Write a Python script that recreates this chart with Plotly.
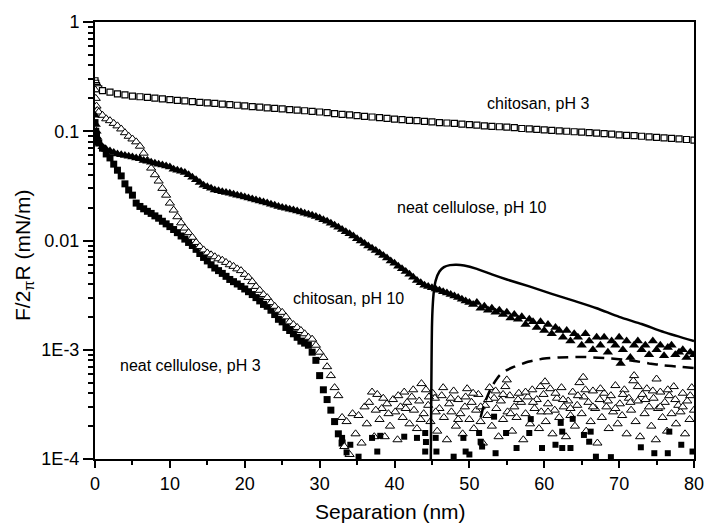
import math
import plotly.graph_objects as go

# ---------------- data ----------------
# chitosan, pH 3 (open squares)
chit3 = [(0, 0.29), (0.1, 0.275), (0.2, 0.262), (0.3, 0.252), (0.5, 0.245),
         (1, 0.235), (2, 0.228), (3, 0.22), (4, 0.215), (5, 0.21), (6, 0.207), (7, 0.204), (8, 0.201),
         (9, 0.198), (10, 0.195), (11, 0.192), (12, 0.19), (13, 0.187), (14, 0.184), (15, 0.182),
         (16, 0.18), (17, 0.177), (18, 0.175), (19, 0.173), (20, 0.171), (21, 0.168), (22, 0.166),
         (23, 0.164), (24, 0.162), (25, 0.16), (26, 0.158), (27, 0.156), (28, 0.154), (29, 0.152),
         (30, 0.15), (31, 0.148), (32, 0.145), (33, 0.143), (34, 0.141), (35, 0.139), (36, 0.137),
         (37, 0.135), (38, 0.133), (39, 0.131), (40, 0.129), (41, 0.128), (42, 0.126), (43, 0.125),
         (44, 0.123), (45, 0.122), (46, 0.12), (47, 0.119), (48, 0.118), (49, 0.116), (50, 0.115),
         (51, 0.114), (52, 0.112), (53, 0.111), (54, 0.11), (55, 0.109), (56, 0.108), (57, 0.106),
         (58, 0.105), (59, 0.104), (60, 0.103), (61, 0.102), (62, 0.101), (63, 0.1), (64, 0.099),
         (65, 0.098), (66, 0.097), (67, 0.096), (68, 0.095), (69, 0.094), (70, 0.0925), (71, 0.0915),
         (72, 0.091), (73, 0.09), (74, 0.089), (75, 0.088), (76, 0.087), (77, 0.086), (78, 0.085),
         (79, 0.084), (80, 0.083)]

# neat cellulose, pH 10 (filled triangles)
neat10 = [(0, 0.14), (0.1, 0.115), (0.2, 0.1), (0.3, 0.088), (0.5, 0.078), (1, 0.072), (1.5, 0.068),
          (2, 0.066), (2.5, 0.064), (3, 0.062), (3.5, 0.061), (4, 0.06), (4.5, 0.059), (5, 0.058),
          (5.5, 0.057), (6, 0.056), (6.5, 0.054), (7, 0.053), (7.5, 0.052), (8, 0.051), (8.5, 0.05),
          (9, 0.049), (9.5, 0.048), (10, 0.047), (10.5, 0.045), (11, 0.044), (11.5, 0.043), (12, 0.042),
          (12.5, 0.04), (13, 0.038), (13.5, 0.036), (14, 0.034), (14.5, 0.032), (15, 0.031), (15.5, 0.03),
          (16, 0.029), (16.5, 0.0285), (17, 0.028), (17.5, 0.0275), (18, 0.027), (18.5, 0.0265),
          (19, 0.026), (19.5, 0.0255), (20, 0.025), (20.5, 0.0245), (21, 0.024), (21.5, 0.0235),
          (22, 0.023), (22.5, 0.0225), (23, 0.022), (23.5, 0.0215), (24, 0.021), (24.5, 0.0205),
          (25, 0.02), (25.5, 0.0197), (26, 0.0193), (26.5, 0.019), (27, 0.0186), (27.5, 0.0182),
          (28, 0.0178), (28.5, 0.0174), (29, 0.017), (29.5, 0.0166), (30, 0.0161), (30.5, 0.0155),
          (31, 0.015), (31.5, 0.0144), (32, 0.0138), (32.5, 0.0132), (33, 0.0126), (33.5, 0.012),
          (34, 0.0115), (34.5, 0.011), (35, 0.0104), (35.5, 0.0099), (36, 0.0094), (36.5, 0.0089),
          (37, 0.0085), (37.5, 0.0081), (38, 0.0077), (38.5, 0.0073), (39, 0.0069), (39.5, 0.0065),
          (40, 0.0062), (40.5, 0.0058), (41, 0.0055), (41.5, 0.0052), (42, 0.0049), (42.5, 0.0046),
          (43, 0.0043), (43.5, 0.0041), (44, 0.0039), (44.5, 0.0038), (45, 0.0037), (45.5, 0.0036),
          (46, 0.0035), (46.5, 0.0034), (47, 0.0033), (47.5, 0.0032), (48, 0.0031), (48.5, 0.003),
          (49, 0.0029), (49.5, 0.0028), (50, 0.0027), (50.5, 0.0026), (51, 0.0027), (51.5, 0.0024),
          (52, 0.0025), (52.5, 0.0023), (53, 0.0024), (53.5, 0.0022), (54, 0.0023), (54.5, 0.0021),
          (55, 0.0022), (55.5, 0.00195), (56, 0.0021), (56.5, 0.0019), (57, 0.002), (57.5, 0.0017),
          (58, 0.0019), (58.5, 0.0018), (59, 0.0016), (59.5, 0.0018), (60, 0.0015), (60.5, 0.0017),
          (61, 0.0014), (61.5, 0.0016), (62, 0.0015), (62.5, 0.0013), (63, 0.0015), (63.5, 0.0012),
          (64, 0.0014), (64.5, 0.0013), (65, 0.0011), (65.5, 0.0014), (66, 0.0012), (66.5, 0.001),
          (67, 0.0013), (67.5, 0.0011), (68, 0.0013), (68.5, 0.00095), (69, 0.0012), (69.5, 0.0011),
          (70, 0.0013), (70.2, 0.00075), (70.5, 0.001), (71, 0.0012), (71.5, 0.00085), (72, 0.0011),
          (72.5, 0.0012), (73, 0.001), (73.5, 0.0011), (74, 0.0009), (74.5, 0.0012), (75, 0.001),
          (75.5, 0.0011), (76, 0.00088), (76.5, 0.00105), (77, 0.0011), (77.5, 0.0009), (78, 0.00095),
          (78.5, 0.001), (79, 0.00085), (79.5, 0.00095), (80, 0.0009)]

# chitosan, pH 10 (open triangles) - decaying part
chit10 = [(0, 0.24), (0.1, 0.2), (0.2, 0.17), (0.3, 0.155), (0.5, 0.15), (1, 0.14), (1.5, 0.13),
          (2, 0.125), (2.5, 0.118), (3, 0.112), (3.5, 0.105), (4, 0.097), (4.5, 0.09), (5, 0.085),
          (5.5, 0.08), (6, 0.073), (6.5, 0.063), (7, 0.054), (7.5, 0.046), (8, 0.04), (8.5, 0.035),
          (9, 0.03), (9.5, 0.026), (10, 0.022), (10.5, 0.019), (11, 0.0165), (11.5, 0.0145), (12, 0.013),
          (12.5, 0.0118), (13, 0.0107), (13.5, 0.0096), (14, 0.0088), (14.5, 0.0082), (15, 0.0077),
          (15.5, 0.0074), (16, 0.0071), (16.5, 0.0068), (17, 0.0066), (17.5, 0.0063), (18, 0.006),
          (18.5, 0.0058), (19, 0.0055), (19.5, 0.0053), (20, 0.0049), (20.5, 0.0046), (21, 0.0042),
          (21.5, 0.0038), (22, 0.0035), (22.5, 0.0032), (23, 0.003), (23.5, 0.0027), (24, 0.0025),
          (24.5, 0.0023), (25, 0.0022), (25.5, 0.002), (26, 0.0018), (26.5, 0.0017), (27, 0.0016),
          (27.5, 0.0015), (28, 0.0014), (28.5, 0.0013), (29, 0.00125), (29.5, 0.0011), (30, 0.00095),
          (30.5, 0.00085), (31, 0.0007), (31.5, 0.00058), (32, 0.00045), (32.5, 0.00038)]

# chitosan, pH 10 - noise floor (units of 1e-4 mN/m)
chit10_noise = [(33.0, 2.4), (33.3, 1.3), (33.6, 2.2), (34.0, 1.1), (34.4, 2.6), (34.8, 1.7), (35.2, 2.5),
                (35.6, 1.4), (36.0, 3.0), (36.3, 2.1), (36.6, 3.3), (37.0, 4.1), (37.3, 1.6), (37.7, 3.9),
                (38.0, 2.3), (38.3, 2.9), (38.7, 1.6), (39.0, 3.2), (39.4, 2.0), (39.8, 3.5), (40.1, 2.7),
                (40.4, 1.5), (40.8, 3.0), (41.1, 2.4), (41.3, 4.1), (41.7, 3.3), (42.0, 2.1), (42.3, 3.7),
                (42.6, 2.8), (43.0, 1.9), (43.3, 3.4), (43.6, 4.9), (43.9, 2.6), (44.2, 4.3), (44.5, 3.1),
                (44.8, 2.2), (45.1, 4.0), (45.4, 3.6), (45.7, 1.8), (46.0, 2.9), (46.3, 3.8), (46.6, 2.4),
                (47.0, 1.5), (47.3, 3.2), (47.6, 2.7), (47.9, 4.2), (48.2, 2.0), (48.5, 3.5), (48.8, 2.6),
                (49.1, 1.7), (49.4, 3.0), (49.7, 4.4), (50.0, 2.3), (50.3, 3.3), (50.6, 1.9), (50.9, 2.8),
                (51.2, 3.9), (51.5, 2.2), (51.8, 1.4), (52.1, 3.1), (52.4, 2.5), (52.7, 4.5), (53.0, 2.0),
                (53.3, 3.6), (53.6, 2.9), (53.9, 1.6), (54.2, 3.4), (54.5, 2.3), (54.8, 4.6), (55.1, 2.7),
                (55.4, 3.8), (55.7, 1.8), (56.0, 3.0), (56.3, 2.4), (56.6, 4.0), (56.9, 3.3), (57.2, 1.5),
                (57.5, 2.6), (57.8, 3.7), (58.1, 2.1), (58.4, 4.3), (58.7, 2.9), (59.0, 3.5), (59.3, 1.9),
                (59.6, 2.7), (59.9, 3.9), (60.2, 2.2), (60.5, 3.2), (60.8, 4.4), (61.1, 1.7), (61.4, 2.8),
                (61.7, 3.6), (62.0, 2.4), (62.3, 4.5), (62.6, 3.0), (62.9, 1.6), (63.2, 3.4), (63.5, 2.5),
                (63.8, 4.1), (64.1, 2.0), (64.4, 3.1), (64.7, 5.0), (65.0, 2.6), (65.3, 3.7), (65.6, 1.8),
                (65.9, 3.3), (66.2, 2.2), (66.5, 4.2), (66.8, 2.9), (67.1, 1.4), (67.4, 3.5), (67.7, 2.4),
                (68.0, 4.0), (68.3, 3.0), (68.6, 1.9), (68.9, 3.8), (69.2, 2.7), (69.5, 4.7), (69.8, 2.1),
                (70.1, 3.2), (70.4, 2.5), (70.7, 4.3), (71.0, 1.7), (71.3, 3.6), (71.6, 2.8), (71.9, 5.2),
                (72.2, 2.2), (72.5, 3.4), (72.8, 1.6), (73.1, 3.9), (73.4, 2.6), (73.7, 4.4), (74.0, 3.0),
                (74.3, 2.0), (74.6, 3.6), (74.9, 1.5), (75.2, 2.9), (75.5, 4.1), (75.8, 2.4), (76.1, 3.3),
                (76.4, 1.8), (76.7, 3.8), (77.0, 2.6), (77.3, 4.6), (77.6, 2.1), (77.9, 3.1), (78.2, 2.7),
                (78.5, 4.0), (78.8, 1.7), (79.1, 3.4), (79.4, 2.3), (79.7, 4.5), (80.0, 2.8),
                (37.5, 2.8), (38.5, 3.6), (39.2, 2.6), (40.5, 3.8), (41.5, 2.9), (42.5, 4.3), (43.5, 2.3),
                (44.6, 3.7), (45.5, 2.7), (46.5, 4.5), (47.5, 3.6), (48.5, 2.3), (49.5, 3.7), (50.5, 4.0),
                (51.5, 3.0), (52.5, 3.5), (53.5, 4.2), (54.5, 3.9), (55.5, 2.6), (56.5, 3.5), (57.5, 4.1),
                (58.5, 3.3), (59.5, 4.6), (60.5, 2.7), (61.5, 4.0), (62.5, 3.5), (63.5, 2.9), (64.5, 3.8),
                (65.5, 4.3), (66.5, 3.0), (67.5, 4.4), (68.5, 3.4), (69.5, 2.9), (70.5, 3.9), (71.5, 3.3),
                (72.5, 4.6), (73.5, 3.5), (74.5, 4.2), (75.5, 3.0), (76.5, 4.3), (77.5, 3.5), (78.5, 3.0),
                (79.5, 3.8), (65.2, 5.6), (60.1, 5.1), (55.0, 5.3), (72.0, 5.8), (75.0, 5.4)]

# neat cellulose, pH 3 (filled squares) - decaying part
neat3 = [(0, 0.12), (0.1, 0.1), (0.2, 0.09), (0.3, 0.082), (0.5, 0.078), (1, 0.07), (1.5, 0.062),
         (2, 0.057), (2.5, 0.05), (3, 0.044), (3.5, 0.039), (4, 0.033), (4.5, 0.029), (5, 0.026),
         (5.5, 0.022), (6, 0.0205), (6.5, 0.0195), (7, 0.0185), (7.5, 0.0177), (8, 0.0168), (8.5, 0.016),
         (9, 0.015), (9.5, 0.0142), (10, 0.0134), (10.5, 0.0126), (11, 0.0118), (11.5, 0.011),
         (12, 0.0103), (12.5, 0.0096), (13, 0.009), (13.5, 0.0083), (14, 0.0076), (14.5, 0.007),
         (15, 0.0065), (15.5, 0.006), (16, 0.0056), (16.5, 0.0053), (17, 0.005), (17.5, 0.0047),
         (18, 0.0044), (18.5, 0.0042), (19, 0.004), (19.5, 0.0038), (20, 0.0036), (20.5, 0.0034),
         (21, 0.0032), (21.5, 0.003), (22, 0.0028), (22.5, 0.0026), (23, 0.0025), (23.5, 0.0023),
         (24, 0.0021), (24.5, 0.0019), (25, 0.0018), (25.5, 0.0016), (26, 0.0015), (26.5, 0.0014),
         (27, 0.0013), (27.5, 0.0012), (28, 0.00115), (28.5, 0.0011), (29, 0.00095), (29.5, 0.0008),
         (30, 0.00058), (30.5, 0.00043), (31, 0.00035), (31.5, 0.00028), (32, 0.00022), (32.5, 0.00017),
         (33, 0.00014)]

# neat cellulose, pH 3 - noise floor (units of 1e-4 mN/m)
neat3_noise = [(33.0, 1.56), (33.6, 1.15), (34.1, 1.35), (35.2, 1.05), (37.0, 1.56), (37.7, 1.17),
               (38.1, 1.63), (41.3, 1.6), (43.0, 1.56), (44.1, 1.73), (44.2, 1.43), (44.1, 1.17),
               (45.5, 1.56), (45.6, 1.17), (47.9, 1.05), (49.2, 1.56), (49.5, 1.17), (50.0, 1.1),
               (51.3, 1.73), (51.5, 1.44), (51.7, 1.3), (53.3, 2.44), (53.5, 1.13), (54.9, 1.73),
               (56.3, 1.26), (58.0, 1.73), (58.2, 2.32), (59.7, 1.26), (61.5, 1.35), (62.2, 2.14),
               (62.4, 1.78), (62.4, 1.26), (63.5, 1.26), (63.8, 2.33), (65.3, 1.66), (66.0, 1.44),
               (66.2, 1.78), (66.9, 1.05), (68.9, 1.04), (72.9, 1.28), (74.7, 1.13), (76.5, 1.13),
               (76.7, 1.78), (78.3, 1.35), (79.8, 1.17)]

# theoretical curves
solid_fit = [(44.85, 1.0e-4), (44.9, 3.0e-4), (44.95, 8.0e-4), (45.0, 1.6e-3), (45.1, 2.5e-3),
             (45.25, 3.4e-3), (45.5, 4.3e-3), (46.0, 5.2e-3), (46.6, 5.7e-3), (47.4, 5.95e-3),
             (48.3, 6.0e-3), (49.3, 5.9e-3), (51.0, 5.5e-3), (53.0, 4.9e-3), (55.0, 4.4e-3),
             (58.0, 3.8e-3), (61.0, 3.25e-3), (64.0, 2.8e-3), (67.0, 2.4e-3), (70.0, 2.0e-3),
             (73.0, 1.72e-3), (76.0, 1.45e-3), (80.0, 1.2e-3)]

dashed_fit = [(51.5, 2.4e-4), (52.0, 3.2e-4), (53.0, 4.6e-4), (54.0, 5.8e-4), (55.0, 6.5e-4),
              (56.0, 7.0e-4), (58.0, 7.8e-4), (60.0, 8.3e-4), (62.0, 8.5e-4), (65.0, 8.6e-4),
              (68.0, 8.4e-4), (70.0, 8.2e-4), (72.0, 7.9e-4), (74.0, 7.5e-4), (76.0, 7.2e-4),
              (78.0, 7.0e-4), (80.0, 6.8e-4)]

labels = [("chitosan, pH 3", 59.1, 0.18),
          ("neat cellulose, pH 10", 50.3, 0.0199),
          ("chitosan, pH 10", 33.9, 0.00297),
          ("neat cellulose, pH 3", 12.8, 0.00072)]

x_ticks = [0, 10, 20, 30, 40, 50, 60, 70, 80]
x_minor = [5, 15, 25, 35, 45, 55, 65, 75]
y_ticks = [1e-4, 1e-3, 1e-2, 1e-1, 1]
y_ticktext = ["1E-4", "1E-3", "0.01", "0.1", "1"]

# ---------------- figure ----------------
FONT = "Liberation Sans, Arial, sans-serif"


def xs(pairs):
    return [p[0] for p in pairs]


def ys(pairs, scale=1.0):
    return [p[1] * scale for p in pairs]


fig = go.Figure()

fig.add_trace(go.Scatter(x=xs(chit3), y=ys(chit3), mode="markers",
                         marker=dict(symbol="square", size=6, color="white",
                                     line=dict(color="black", width=1.2))))
fig.add_trace(go.Scatter(x=xs(neat3), y=ys(neat3), mode="markers",
                         marker=dict(symbol="square", size=7, color="black",
                                     line=dict(color="black", width=0))))
fig.add_trace(go.Scatter(x=xs(chit10), y=ys(chit10), mode="markers",
                         marker=dict(symbol="triangle-up", size=8, color="white",
                                     line=dict(color="black", width=1))))
fig.add_trace(go.Scatter(x=xs(chit10_noise), y=ys(chit10_noise, 1e-4), mode="markers",
                         marker=dict(symbol="triangle-up", size=8, color="white",
                                     line=dict(color="black", width=1))))
fig.add_trace(go.Scatter(x=xs(neat3_noise), y=ys(neat3_noise, 1e-4), mode="markers",
                         marker=dict(symbol="square", size=6, color="black",
                                     line=dict(color="black", width=0))))
fig.add_trace(go.Scatter(x=xs(neat10), y=ys(neat10), mode="markers",
                         marker=dict(symbol="triangle-up", size=9, color="black",
                                     line=dict(color="black", width=0))))
fig.add_trace(go.Scatter(x=xs(solid_fit), y=ys(solid_fit), mode="lines",
                         line=dict(color="black", width=2.5, shape="spline", smoothing=0.6)))
fig.add_trace(go.Scatter(x=xs(dashed_fit), y=ys(dashed_fit), mode="lines",
                         line=dict(color="black", width=2.5, dash="11px,7px", shape="spline",
                                   smoothing=0.6)))

for text, lx, ly in labels:
    fig.add_annotation(x=lx, y=math.log10(ly), xref="x", yref="y", text=text,
                       showarrow=False, xanchor="center", yanchor="middle",
                       font=dict(size=16, color="black", family=FONT))

# axis titles
fig.add_annotation(x=-0.1185, y=0.4645, xref="paper", yref="paper",
                   text="F/2<sub>π</sub>R (mN/m)", textangle=-90, showarrow=False,
                   xanchor="center", yanchor="middle",
                   font=dict(size=21, color="black", family=FONT))
fig.add_annotation(x=0.4925, y=-0.121, xref="paper", yref="paper",
                   text="Separation (nm)", showarrow=False,
                   xanchor="center", yanchor="middle",
                   font=dict(size=21, color="black", family=FONT))

minor_y = []
for dec in [1e-4, 1e-3, 1e-2, 1e-1]:
    for m in range(2, 10):
        minor_y.append(dec * m)

fig.update_layout(
    width=705, height=525,
    margin=dict(l=95, r=11, t=22, b=66, autoexpand=False),
    paper_bgcolor="white", plot_bgcolor="white",
    showlegend=False,
    font=dict(family=FONT, color="black", size=18),
    xaxis=dict(range=[0, 80], tickvals=x_ticks, ticks="outside", ticklen=7, tickwidth=2,
               tickcolor="black", showline=True, linewidth=2, linecolor="black", mirror=True,
               showgrid=False, zeroline=False, automargin=False,
               tickfont=dict(size=18, family=FONT),
               minor=dict(tickvals=x_minor, ticks="outside", ticklen=4,
                          tickwidth=2, tickcolor="black", showgrid=False)),
    yaxis=dict(type="log", range=[-4, 0], tickvals=y_ticks, ticktext=y_ticktext,
               ticks="outside", ticklen=10, tickwidth=2, tickcolor="black",
               showline=True, linewidth=2, linecolor="black", mirror=True,
               showgrid=False, zeroline=False, automargin=False,
               tickfont=dict(size=18, family=FONT),
               minor=dict(tickvals=minor_y, ticks="outside", ticklen=5, tickwidth=2,
                          tickcolor="black", showgrid=False)),
)

fig.write_html("out.html")
